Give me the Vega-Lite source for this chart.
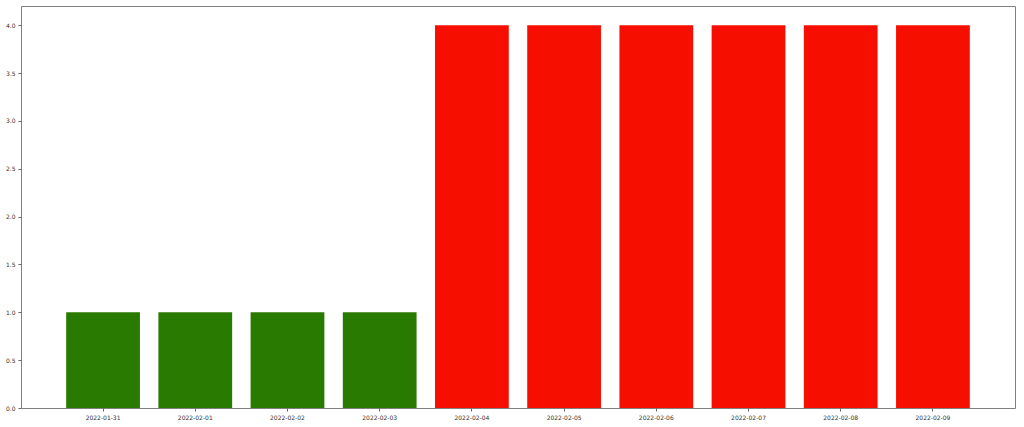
{
  "$schema": "https://vega.github.io/schema/vega-lite/v6.json",
  "width": 994,
  "height": 402,
  "autosize": {"type": "none"},
  "padding": {"left": 21, "top": 6, "right": 9, "bottom": 19},
  "background": "white",
  "data": {
    "values": [
      {"date": "2022-01-31", "value": 1, "status": "low"},
      {"date": "2022-02-01", "value": 1, "status": "low"},
      {"date": "2022-02-02", "value": 1, "status": "low"},
      {"date": "2022-02-03", "value": 1, "status": "low"},
      {"date": "2022-02-04", "value": 4, "status": "high"},
      {"date": "2022-02-05", "value": 4, "status": "high"},
      {"date": "2022-02-06", "value": 4, "status": "high"},
      {"date": "2022-02-07", "value": 4, "status": "high"},
      {"date": "2022-02-08", "value": 4, "status": "high"},
      {"date": "2022-02-09", "value": 4, "status": "high"}
    ]
  },
  "mark": {"type": "bar"},
  "encoding": {
    "x": {
      "field": "date",
      "type": "ordinal",
      "sort": null,
      "scale": {"paddingInner": 0.2, "paddingOuter": 0.49},
      "axis": {
        "title": null,
        "labelAngle": 0,
        "labelFont": "DejaVu Sans",
        "labelFontSize": 6,
        "labelColor": "#333333",
        "labelPadding": 3,
        "tickSize": 3,
        "tickColor": "#666666",
        "domain": false
      }
    },
    "y": {
      "field": "value",
      "type": "quantitative",
      "scale": {"domain": [0, 4.2], "nice": false},
      "axis": {
        "title": null,
        "values": [0, 0.5, 1, 1.5, 2, 2.5, 3, 3.5, 4],
        "format": ".1f",
        "grid": false,
        "labelFont": "DejaVu Sans",
        "labelFontSize": 6,
        "labelColor": "#333333",
        "labelPadding": 3,
        "tickSize": 3,
        "tickColor": "#666666",
        "domain": false
      }
    },
    "color": {
      "field": "status",
      "type": "nominal",
      "scale": {"domain": ["low", "high"], "range": ["#297a00", "#f60f00"]},
      "legend": null
    }
  },
  "config": {
    "view": {"stroke": "#808080", "strokeWidth": 1}
  }
}
